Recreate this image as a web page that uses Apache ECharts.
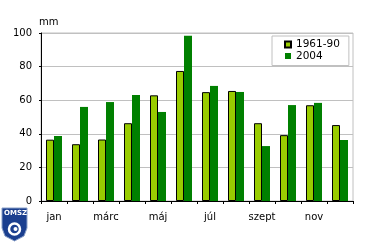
<!DOCTYPE html>
<html><head><meta charset="utf-8">
<script src="https://cdn.jsdelivr.net/npm/echarts@6/dist/echarts.min.js"></script>
<style>html,body{margin:0;padding:0;background:#fff}#c{width:370px;height:242px}</style>
</head><body><div id="c"></div>
<script>
var months = ['jan','febr','márc','ápr','máj','jún','júl','aug','szept','okt','nov','dec'];
var normal6190 = [36.5, 33.8, 36.6, 46.3, 62.9, 77.4, 64.8, 65.5, 46.3, 39.2, 57.0, 45.2];
var year2004 = [38.7, 56.0, 58.9, 63.1, 53.0, 98.4, 68.5, 64.9, 32.7, 57.1, 58.4, 36.3];
var yTicks = [0, 20, 40, 60, 80, 100];
var seriesNames = ['1961-90', '2004'];

var FONT = 'DejaVu Sans';
var chart = echarts.init(document.getElementById('c'), null, {renderer: 'canvas'});
chart.setOption({
  backgroundColor: '#fff',
  animation: false,
  textStyle: {fontFamily: FONT, color: '#000'},
  title: {text: 'mm', left: 39, top: 17, padding: 0,
    textStyle: {fontFamily: FONT, fontSize: 10, fontWeight: 'normal', color: '#000'}},
  grid: {left: 41, right: 17, top: 33, bottom: 41, show: true, borderColor: '#c0c0c0', borderWidth: 1, backgroundColor: 'transparent'},
  legend: {
    orient: 'vertical', left: 272, top: 36,
    padding: [3, 9, 4, 12], itemGap: 0.5, itemWidth: 6, itemHeight: 6,
    borderColor: '#c0c0c0', borderWidth: 1, backgroundColor: '#fff',
    icon: 'rect',
    textStyle: {fontFamily: FONT, fontSize: 10.5, color: '#000', lineHeight: 10},
    data: seriesNames
  },
  xAxis: {
    type: 'category', data: months, boundaryGap: true,
    axisLine: {lineStyle: {color: '#000', width: 1}},
    axisTick: {show: true, interval: 0, length: 3, lineStyle: {color: '#000'}},
    axisLabel: {interval: 1, margin: 11, fontSize: 10, fontFamily: FONT, color: '#000'},
    splitLine: {show: false}
  },
  yAxis: {
    type: 'value', min: 0, max: 100, interval: 20,
    axisLine: {show: true, lineStyle: {color: '#000', width: 1}},
    axisTick: {show: true, length: 2, lineStyle: {color: '#000'}},
    axisLabel: {margin: 9, fontSize: 10, fontFamily: FONT, color: '#000',
      formatter: function (v) { return yTicks.indexOf(v) >= 0 ? String(v) : ''; }},
    splitLine: {show: true, lineStyle: {color: '#c0c0c0', width: 1}}
  },
  series: [
    {name: seriesNames[0], type: 'bar', data: normal6190, barWidth: 8, barGap: '0%',
      itemStyle: {color: '#99cc00', borderColor: '#000', borderWidth: 1}},
    {name: seriesNames[1], type: 'bar', data: year2004, barWidth: 8, barGap: '0%',
      itemStyle: {color: '#008000', borderWidth: 0}}
  ],
  graphic: [
    {type: 'polygon', shape: {points: [[2,208],[27,208],[27,228],[24,236],[14.5,241],[5,236],[2,228]]},
      style: {fill: '#1b3f8f', stroke: '#8aa0c8', lineWidth: 1}},
    {type: 'text', left: 4, top: 210, style: {text: 'OMSZ', fill: '#fff', font: 'bold 7px DejaVu Sans'}},
    {type: 'circle', shape: {cx: 14.5, cy: 229, r: 5.5}, style: {fill: null, stroke: '#fff', lineWidth: 2.5}},
    {type: 'circle', shape: {cx: 15.5, cy: 229, r: 2}, style: {fill: '#fff'}}
  ]
});
</script></body></html>
